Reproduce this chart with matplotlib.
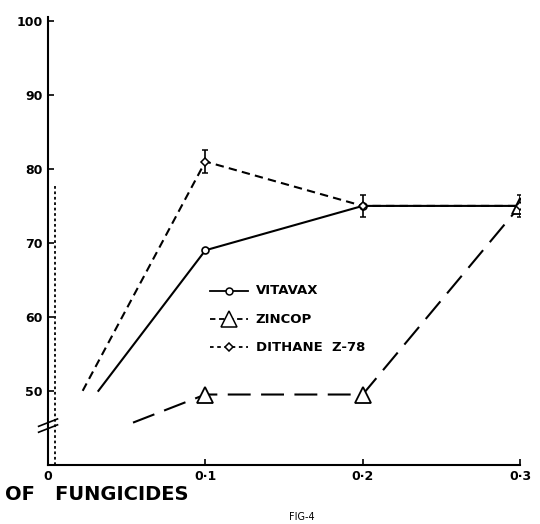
import numpy as np
import matplotlib
matplotlib.use('Agg')
from matplotlib import pyplot as plt

# concentration (%) and disease control values
vitavax_x = [0.032, 0.1, 0.2, 0.3]
vitavax_y = [50, 69, 75, 75]
zincop_x = [0.054, 0.1, 0.2, 0.3]
zincop_y = [45.7, 49.5, 49.5, 75]
dithane_x = [0.022, 0.1, 0.2, 0.3]
dithane_y = [50, 81, 75, 75]
dithane_err = [0, 1.5, 1.5, 1.5]

xticks = [0, 0.1, 0.2, 0.3]
xticklabels = ['0', '0·1', '0·2', '0·3']
yticks = [50, 60, 70, 80, 90, 100]
yticklabels = ['50', '60', '70', '80', '90', '100']

plt.rcParams['font.family'] = ['DejaVu Sans']
fig = plt.figure(figsize=(5.4, 5.24), dpi=100)
ax = fig.add_axes([0.089, 0.113, 0.874, 0.854])

# markers only at the measured points (not at the line starts)
ax.plot(vitavax_x, vitavax_y, color='black', lw=1.5, ls='-')
ax.plot(vitavax_x[1:], vitavax_y[1:], ls='none', marker='o', ms=5,
        mfc='white', mec='black', mew=1.2)

ax.plot(zincop_x, zincop_y, color='black', lw=1.5, ls=(0, (11, 5)))
ax.plot(zincop_x[1:], zincop_y[1:], ls='none', marker='^', ms=11,
        mfc='white', mec='black', mew=1.3)

ax.plot(dithane_x, dithane_y, color='black', lw=1.5, ls=(0, (4, 2.5)))
ax.errorbar(dithane_x[1:], dithane_y[1:], yerr=dithane_err[1:], ls='none',
            marker='D', ms=4, mfc='white', mec='black', mew=1.1,
            ecolor='black', elinewidth=1.2, capsize=2)

# dotted line beside the y axis
ax.plot([0.0045, 0.0045], [40, 78], color='black', lw=1.3, ls=(0, (1.5, 1.5)))

# axis break marks
ax.plot([-0.006, 0.006], [45.2, 46.2], color='black', lw=1.2, clip_on=False)
ax.plot([-0.006, 0.006], [44.4, 45.4], color='black', lw=1.2, clip_on=False)

ax.set_xlim(0, 0.3)
ax.set_ylim(40, 100.5)
ax.spines['top'].set_visible(False)
ax.spines['right'].set_visible(False)
ax.spines['left'].set_linewidth(1.5)
ax.spines['bottom'].set_linewidth(1.5)
ax.set_xticks(xticks)
ax.set_xticklabels(xticklabels, fontsize=9, fontweight='bold')
ax.set_yticks(yticks)
ax.set_yticklabels(yticklabels, fontsize=9, fontweight='bold')
ax.tick_params(direction='in', length=4, width=1.2, pad=4)

# legend drawn by hand like in the figure
leg_x0, leg_x1, leg_tx = 0.103, 0.127, 0.132
for y, ls, mk, ms, lab in [(63.5, '-', 'o', 5, 'VITAVAX'),
                           (59.7, (0, (3, 2)), '^', 11, 'ZINCOP'),
                           (55.9, (0, (2, 2)), 'D', 4, 'DITHANE  Z-78')]:
    ax.plot([leg_x0, leg_x1], [y, y], color='black', lw=1.3, ls=ls)
    ax.plot([(leg_x0 + leg_x1) / 2], [y], marker=mk, ms=ms, mfc='white',
            mec='black', mew=1.1)
    ax.text(leg_tx, y, lab, fontsize=9.5, fontweight='bold', va='center')

fig.text(0.01, 0.045, 'OF   FUNGICIDES', fontsize=14, fontweight='bold')
fig.text(0.535, 0.008, 'FIG-4', fontsize=7)

fig.savefig('out.png', dpi=100, facecolor='white')
